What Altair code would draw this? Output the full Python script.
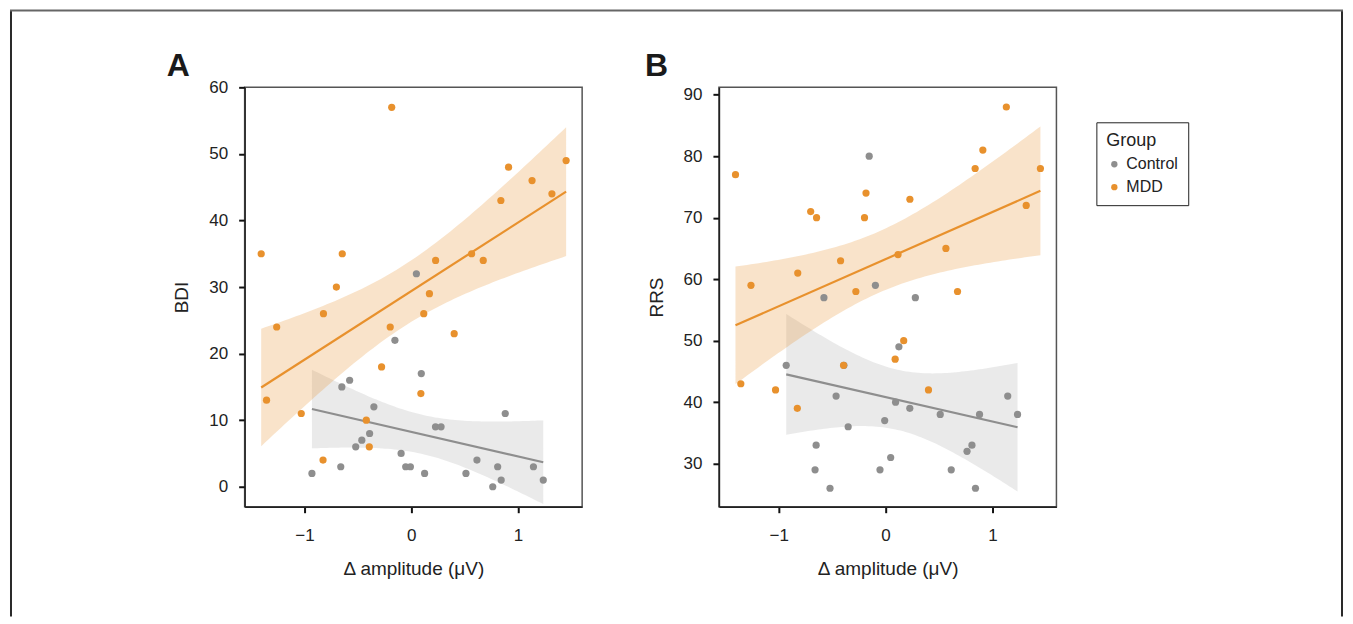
import altair as alt
import numpy as np
import pandas as pd

# ---- data ----
# Control group: delta amplitude (uV), BDI, RRS
ctrl_x = [-0.93, -0.66, -0.65, -0.577, -0.52, -0.463, -0.39, -0.35, -0.153, -0.095,
          -0.052, -0.008, 0.048, 0.094, 0.125, 0.227, 0.279, 0.512, 0.615, 0.763,
          0.809, 0.842, 0.88, 1.144, 1.236]
ctrl_bdi = [2, 3, 15, 16, 6, 7, 8, 12, 22, 5,
            3, 3, 32, 17, 2, 9, 9, 2, 4, 0,
            3, 1, 11, 3, 1]
ctrl_rrs = [46, 29, 33, 57, 26, 41, 46, 36, 80, 59,
            29, 37, 31, 40, 49, 39, 57, 38, 29, 32,
            33, 26, 38, 41, 38]

# MDD group
mdd_x = [-1.405, -1.355, -1.26, -1.03, -0.822, -0.826, -0.701, -0.646, -0.421, -0.393,
         -0.278, -0.197, -0.183, 0.09, 0.117, 0.17, 0.228, 0.402, 0.565, 0.674,
         0.839, 0.911, 1.131, 1.317, 1.45]
mdd_bdi = [35, 13, 24, 11, 26, 4, 30, 35, 10, 6,
           18, 24, 57, 14, 26, 29, 34, 23, 35, 34,
           43, 48, 46, 44, 49]
mdd_rrs = [77, 43, 59, 42, 61, 39, 71, 70, 63, 46,
           58, 70, 74, 47, 64, 50, 73, 42, 65, 58,
           78, 81, 88, 72, 78]

groups = ["Control", "MDD"]
colors = ["#8E8E8E", "#E8912D"]
band_opacity = [0.19, 0.25]
x_ticks = [-1, 0, 1]
bdi_ticks = [0, 10, 20, 30, 40, 50, 60]
rrs_ticks = [30, 40, 50, 60, 70, 80, 90]
x_title = "Δ amplitude (μV)"
panel_labels = ["A", "B"]

FONT = "Liberation Sans"
W, H = 338, 420


def ci_band(x, y, group):
    x = np.asarray(x, float)
    y = np.asarray(y, float)
    n = len(x)
    b, a = np.polyfit(x, y, 1)
    xs = np.linspace(x.min(), x.max(), 80)
    resid = y - (a + b * x)
    s = np.sqrt((resid ** 2).sum() / (n - 2))
    xm = x.mean()
    sxx = ((x - xm) ** 2).sum()
    se = s * np.sqrt(1.0 / n + (xs - xm) ** 2 / sxx)
    z = 1.96
    yhat = a + b * xs
    return pd.DataFrame({"x": xs, "lo": yhat - z * se, "hi": yhat + z * se, "Group": group})


def panel(label, label_dx, yc, ym, ytitle, ydomain, yticks, frame=False):
    pts = pd.concat([
        pd.DataFrame({"x": ctrl_x, "y": yc, "Group": "Control"}),
        pd.DataFrame({"x": mdd_x, "y": ym, "Group": "MDD"}),
    ], ignore_index=True)
    bands = pd.concat([ci_band(ctrl_x, yc, "Control"), ci_band(mdd_x, ym, "MDD")],
                      ignore_index=True)

    xscale = alt.Scale(domain=[-1.56, 1.60], nice=False, zero=False)
    yscale = alt.Scale(domain=ydomain, nice=False, zero=False)
    cscale = alt.Scale(domain=groups, range=colors)

    xaxis = alt.Axis(values=x_ticks, title=x_title, format="d")
    yaxis = alt.Axis(values=yticks, title=ytitle, format="d")

    layers = []
    for g, c, op in zip(groups, colors, band_opacity):
        layers.append(
            alt.Chart(bands).transform_filter(alt.datum.Group == g)
            .mark_area(color=c, opacity=op).encode(
                x=alt.X("x:Q", scale=xscale, axis=xaxis),
                y=alt.Y("lo:Q", scale=yscale, axis=yaxis),
                y2="hi:Q",
            )
        )
    for g, c in zip(groups, colors):
        layers.append(
            alt.Chart(pts).transform_filter(alt.datum.Group == g)
            .transform_regression("x", "y")
            .mark_line(color=c, strokeWidth=2.2).encode(
                x=alt.X("x:Q", scale=xscale),
                y=alt.Y("y:Q", scale=yscale),
            )
        )
    layers.append(
        alt.Chart(pts).mark_circle(size=52, opacity=1).encode(
            x=alt.X("x:Q", scale=xscale),
            y=alt.Y("y:Q", scale=yscale),
            color=alt.Color("Group:N", scale=cscale,
                            legend=alt.Legend(title="Group", orient="none",
                                              legendX=853, legendY=35)),
            order=alt.Order("Group:N"),
        )
    )
    layers.append(
        alt.Chart(pd.DataFrame({"t": [label]})).mark_text(
            font=FONT, fontSize=32, fontWeight="bold", color="#1a1a1a",
            align="left", baseline="alphabetic",
        ).encode(text="t:N", x=alt.value(label_dx), y=alt.value(-11))
    )
    if frame:
        one = pd.DataFrame({"k": [0]})
        layers += [
            alt.Chart(one).mark_rule(color="#2a2a2a", strokeWidth=2).encode(
                x=alt.value(-234), y=alt.value(-77), y2=alt.value(530)),
            alt.Chart(one).mark_rule(color="#2a2a2a", strokeWidth=2).encode(
                x=alt.value(1099), y=alt.value(-77), y2=alt.value(530)),
            alt.Chart(one).mark_rule(color="#666666", strokeWidth=2).encode(
                x=alt.value(-235), x2=alt.value(1100), y=alt.value(-77)),
        ]
    return alt.layer(*layers).properties(width=W, height=H)


pa = panel(panel_labels[0], -78, ctrl_bdi, mdd_bdi, "BDI", [-3, 60], bdi_ticks, frame=True)
pb = panel(panel_labels[1], -74, ctrl_rrs, mdd_rrs, "RRS", [23, 91.2], rrs_ticks)

chart = alt.hconcat(pa, pb, spacing=137, bounds="flush").properties(
    padding=0,
).configure_view(
    stroke="#555555", strokeWidth=1.5,
).configure_axis(
    grid=False,
    domainColor="#222222", domainWidth=1.5,
    tickColor="#111111", tickWidth=2, tickSize=6,
    labelFont=FONT, labelFontSize=17, labelColor="#222222",
    titleFont=FONT, titleFontSize=19, titleFontWeight="normal", titleColor="#222222",
).configure_axisX(
    labelPadding=15, titlePadding=16,
).configure_axisY(
    labelPadding=11, titlePadding=17,
).configure_legend(
    strokeColor="#222222", strokeWidth=1, padding=10, cornerRadius=0,
    titleFont=FONT, titleFontSize=18, titleFontWeight="normal", titleColor="#222222",
    labelFont=FONT, labelFontSize=16, labelColor="#222222",
    symbolSize=40, symbolType="circle", rowPadding=7, titlePadding=6,
)

chart.save("out.html", embed_options={"renderer": "svg", "actions": False})
